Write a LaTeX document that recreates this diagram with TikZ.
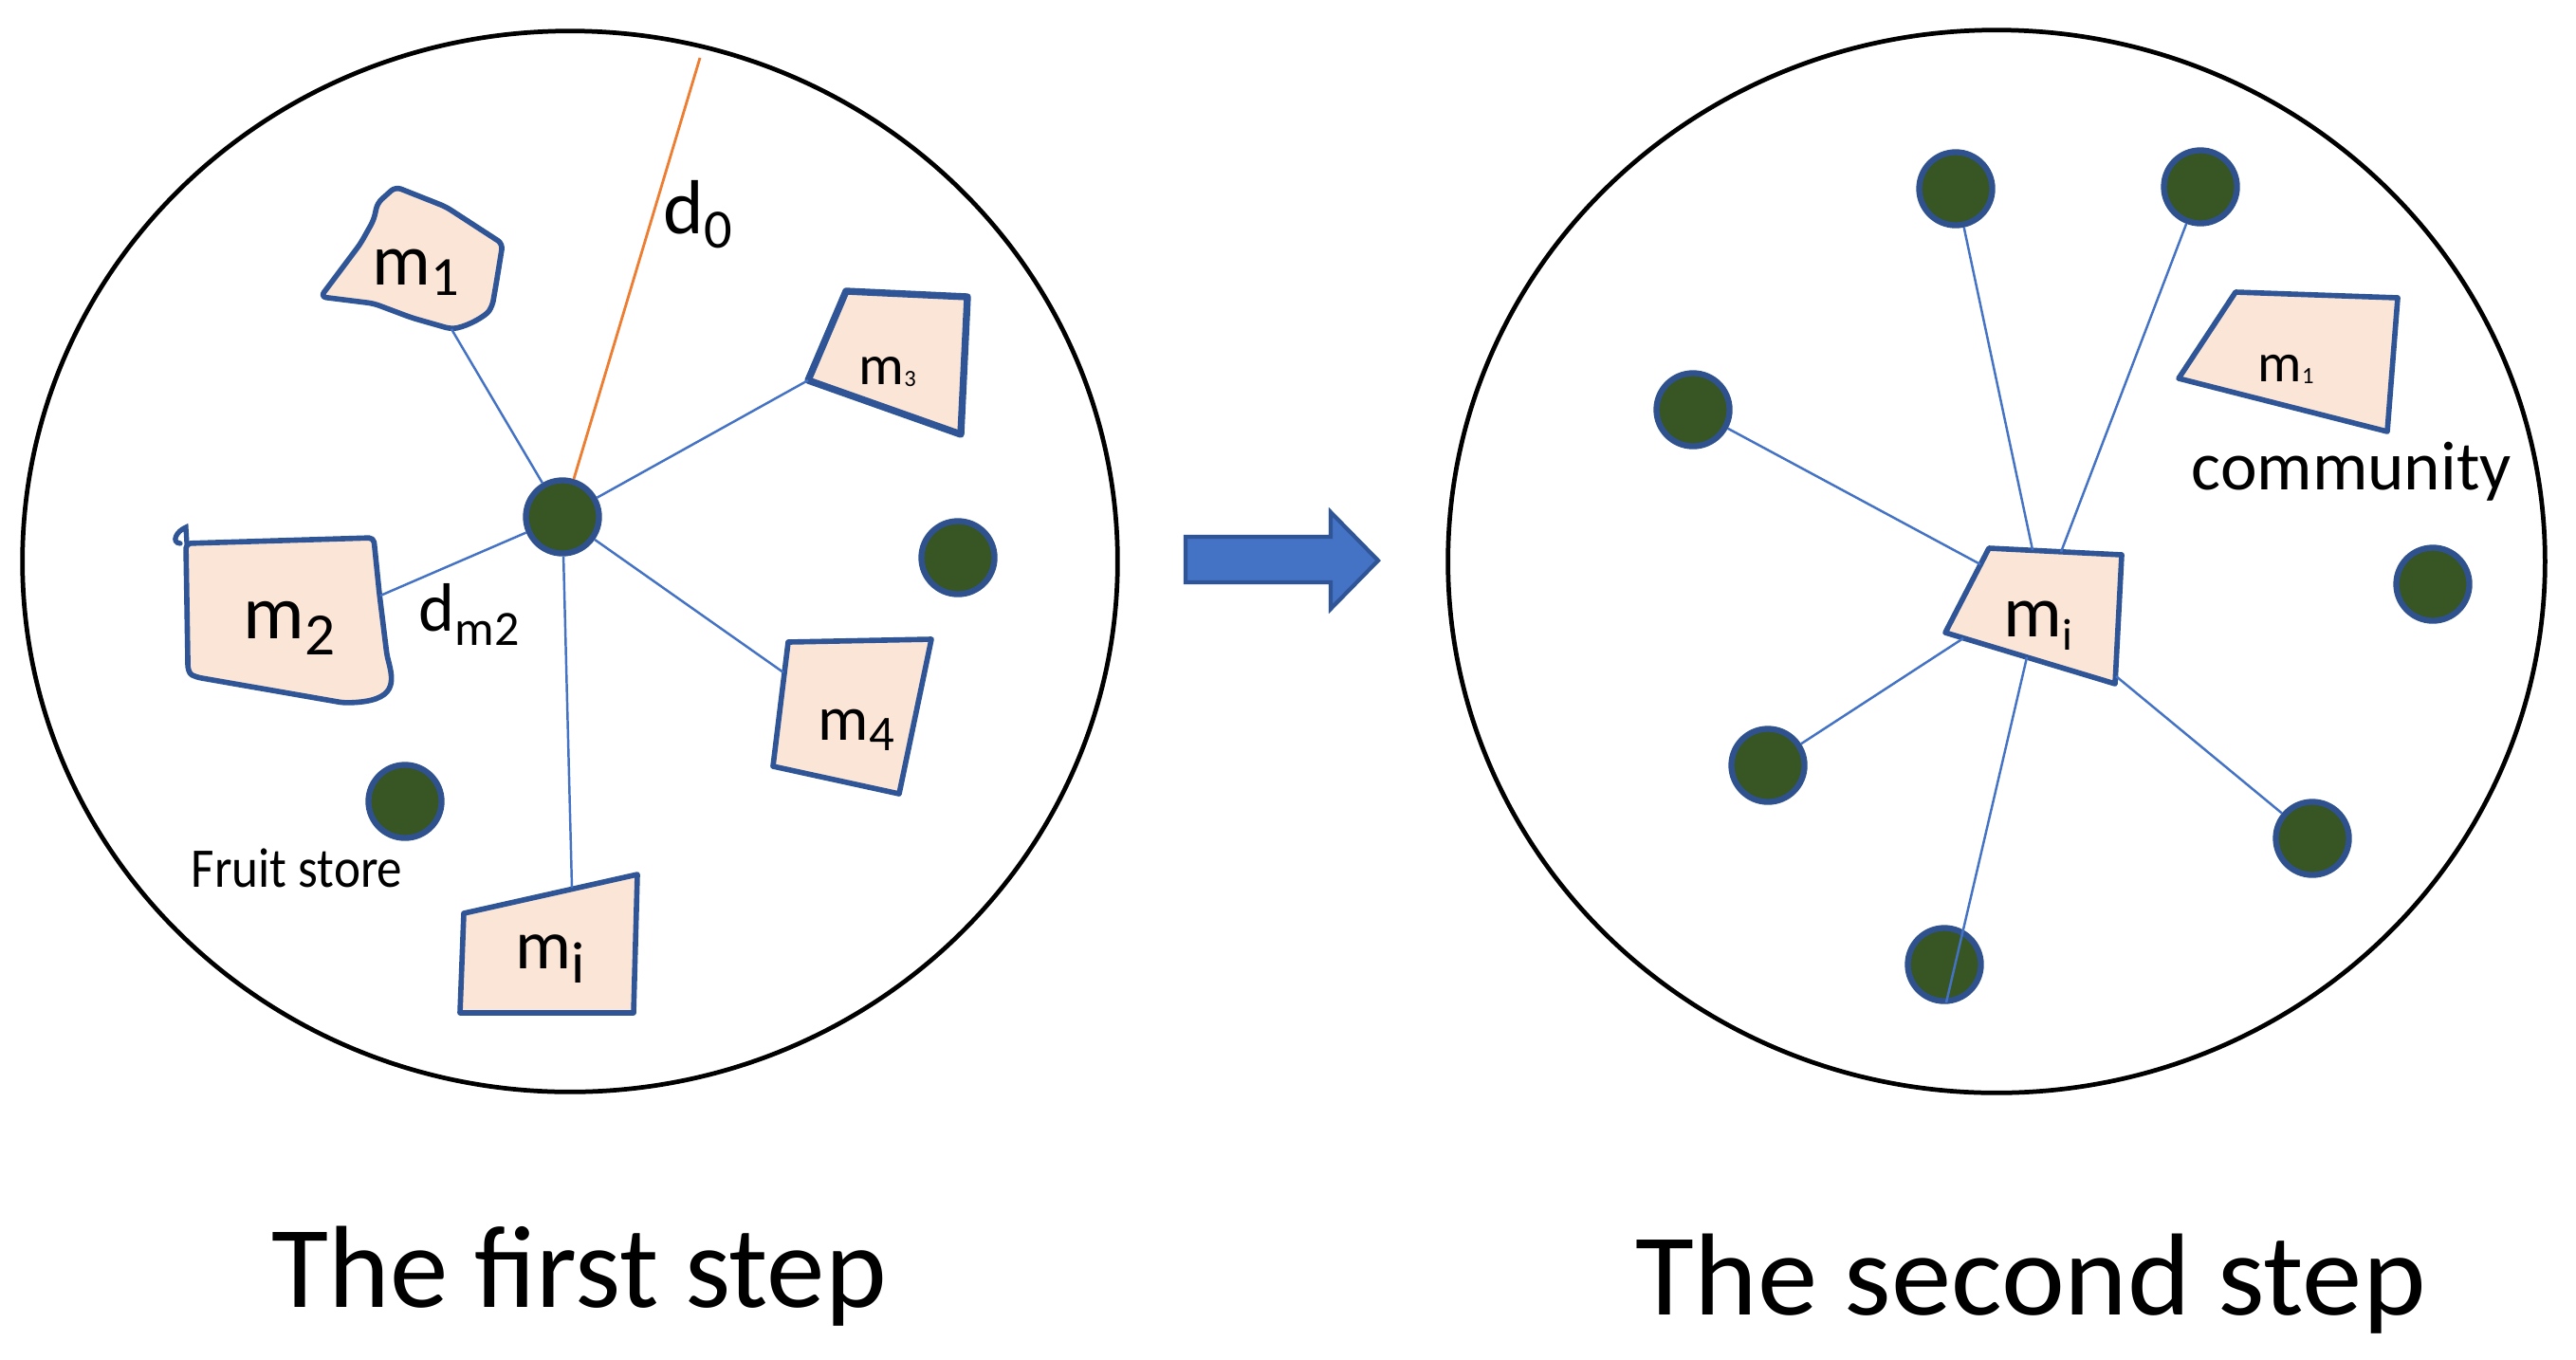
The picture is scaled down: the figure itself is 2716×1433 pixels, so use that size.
\documentclass[tikz,border=0pt]{standalone}
\usepackage{fontspec}
\setmainfont{Carlito}
\usepackage{graphicx}
\definecolor{dotgreen}{HTML}{375623}
\definecolor{dotblue}{HTML}{2F528F}
\definecolor{shapeblue}{HTML}{2F5597}
\definecolor{peach}{HTML}{FBE5D6}
\definecolor{linkblue}{HTML}{4472C4}
\definecolor{orangeline}{HTML}{ED7D31}
\newcommand\mylab[5]{{\fontsize{#1}{#1}\selectfont #2\raisebox{-#4}{\fontsize{#3}{#3}\selectfont #5}}}
\tikzset{
  bigcircle/.style={draw=black, line width=1.35pt},
  dot/.style={circle, draw=dotblue, fill=dotgreen, line width=1.8pt, minimum size=0.77cm, inner sep=0pt},
  house/.style={draw=shapeblue, fill=peach, line width=1.6pt, line join=round},
  thickhouse/.style={draw=shapeblue, fill=peach, line width=2.1pt, line join=round},
  link/.style={draw=linkblue, line width=0.7pt},
  radius line/.style={draw=orangeline, line width=0.8pt},
  lab/.style={inner sep=0pt, anchor=base west, text=black},
  bigarrow/.style={draw=shapeblue, fill=linkblue, line width=1.2pt, line join=miter},
}
\begin{document}
\begin{tikzpicture}[x=0.01cm,y=-0.01cm]
\useasboundingbox (0,0) rectangle (2716,1433);
\fill[white] (0,0) rectangle (2716,1433);

% ---------- left panel ----------
\draw[bigcircle] (601,592) ellipse [x radius=5.77cm, y radius=5.59cm];

% m1 (irregular)
\draw[house, rounded corners=0.06cm] (417,197) -- (470,218) -- (530,257) -- (523,300) -- (519,323)
   .. controls (512,333) and (495,343) .. (476,347) -- (434,335) -- (394,320) -- (338,313)
   -- (380,257) -- (394,232) -- (398,214) -- cycle;
\coordinate (m1a) at (476,347);
% m2 (irregular)
\draw[house, rounded corners=0.05cm] (196,573) -- (394,567) -- (400,626) -- (408,691)
   .. controls (415,718) and (420,740) .. (362,741) -- (207,714)
   .. controls (199,710) and (198,704) .. (198,695) -- cycle;
\draw[shapeblue, line width=1.5pt, line cap=round] (197,573) -- (196,556) .. controls (186,560) and (180,572) .. (190,573);
\coordinate (m2a) at (401,628);
% m3
\draw[thickhouse] (892,307) -- (1020,313) -- (1013,458) -- (852,401) -- cycle;
\coordinate (m3a) at (852,401);
% m4
\draw[house] (831,677) -- (982,674) -- (948,837) -- (815,808) -- cycle;
\coordinate (m4a) at (826,709);
% mi
\draw[house] (489,963) -- (672,922) -- (668,1068) -- (485,1068) -- cycle;
\coordinate (mia) at (603,936);

\node[dot] (C) at (593,545) {};
\node[dot] (R) at (1010,588) {};
\node[dot] (F) at (427,845) {};
\coordinate (d0end) at (738,61);

\draw[radius line] (C) -- (d0end);
\draw[link] (C) -- (m1a);
\draw[link] (C) -- (m3a);
\draw[link] (C) -- (m2a);
\draw[link] (C) -- (m4a);
\draw[link] (C) -- (mia);

\node[lab] (lm1) at (392,300) {\mylab{22pt}{m}{16.6pt}{3.4pt}{1}};
\node[lab] (lm2) at (256,673) {\mylab{23pt}{m}{18pt}{5pt}{2}};
\node[lab] (lm3) at (905,405) {\mylab{17pt}{m}{7pt}{0.6pt}{3}};
\node[lab] (lm4) at (862,780) {\mylab{19pt}{m}{15pt}{3.4pt}{4}};
\node[lab] (lmi) at (543,1021) {\mylab{21pt}{m}{17.6pt}{4.5pt}{i}};
\node[lab] (ld0) at (699,246) {\mylab{23pt}{d}{16.6pt}{4.5pt}{0}};
\node[lab] (ldm2) at (441,665) {\mylab{20.5pt}{d}{14.8pt}{4.5pt}{m2}};
\node[lab] (fruit) at (201,935) {\fontsize{16.8pt}{16.8pt}\selectfont\scalebox{0.9}[1]{Fruit store}};

% ---------- arrow ----------
\draw[bigarrow] (1250,566) -- (1403,566) -- (1403,540) -- (1453,591) -- (1403,642) -- (1403,614) -- (1250,614) -- cycle;

% ---------- right panel ----------
\draw[bigcircle] (2105,592) ellipse [x radius=5.78cm, y radius=5.60cm];

\draw[house] (2097,578) -- (2237,585) -- (2230,721) -- (2051,667) -- cycle;
\draw[house] (2357,308) -- (2528,314) -- (2517,455) -- (2297,399) -- cycle;
\coordinate (a1) at (2143,580);
\coordinate (a2) at (2173,582);
\coordinate (a3) at (2088,595);
\coordinate (a5) at (2070,673);
\coordinate (a7) at (2137,693);
\coordinate (a6) at (2231,713);

\node[dot] (D1) at (2062,199) {};
\node[dot] (D2) at (2320,197) {};
\node[dot] (D3) at (1785,432) {};
\node[dot] (D4) at (2565,616) {};
\node[dot] (D5) at (1864,807) {};
\node[dot] (D6) at (2438,884) {};
\node[dot] (D7) at (2050,1017) {};
\coordinate (D7end) at (2052,1057);

\draw[link] (a1) -- (D1);
\draw[link] (a2) -- (D2);
\draw[link] (a3) -- (D3);
\draw[link] (a5) -- (D5);
\draw[link] (a6) -- (D6);
\draw[link] (a7) -- (D7end);

\node[lab] (rmi) at (2112,671) {\mylab{22pt}{m}{13.4pt}{4pt}{i}};
\node[lab] (rm1) at (2380,402) {\mylab{16.5pt}{m}{7pt}{0.6pt}{1}};
\node[lab] (comm) at (2310,516) {\fontsize{20.8pt}{20.8pt}\selectfont community};

% ---------- captions ----------
\node[lab] (cap1) at (286,1378) {\fontsize{35pt}{35pt}\selectfont The first step};
\node[lab] (cap2) at (1724,1386) {\fontsize{35pt}{35pt}\selectfont\scalebox{1.03}[1]{The second step}};
\end{tikzpicture}
\end{document}
